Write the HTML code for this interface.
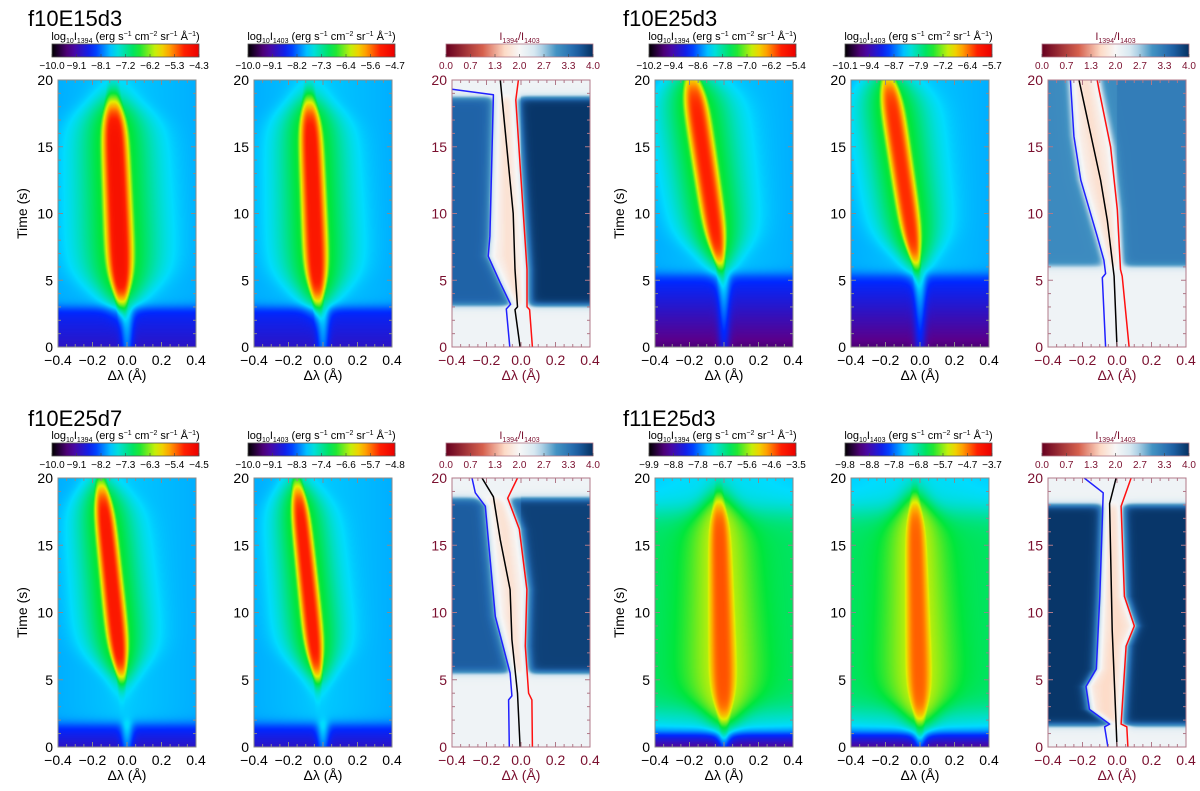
<!DOCTYPE html>
<html><head><meta charset="utf-8"><style>
body{margin:0;background:#fff;width:1200px;height:791px;overflow:hidden;position:relative;font-family:"Liberation Sans",sans-serif}
canvas{position:absolute}
#figsvg{position:absolute;left:0;top:0}
.gt{position:absolute;font-size:22px;color:#000;line-height:1}
</style></head><body>
<div class="gt" style="left:28px;top:8px">f10E15d3</div>
<div class="gt" style="left:623px;top:8px">f10E25d3</div>
<div class="gt" style="left:28px;top:408px">f10E25d7</div>
<div class="gt" style="left:623px;top:408px">f11E25d3</div>
<svg id="figsvg" width="1200" height="791"></svg>
<script>
// ---- data ----
var rowTops=[80,478], rowBots=[347,747], cbTops=[44,443];
var colLefts=[58,254,452,655,851,1048];
var xTicks=[-0.4,-0.2,0.0,0.2,0.4];
var yTicks=[0,5,10,15,20];
var cbLabels=[
 ["-10.0","-9.1","-8.1","-7.2","-6.2","-5.3","-4.3"],
 ["-10.0","-9.1","-8.2","-7.3","-6.4","-5.6","-4.7"],
 ["0.0","0.7","1.3","2.0","2.7","3.3","4.0"],
 ["-10.2","-9.4","-8.6","-7.8","-7.0","-6.2","-5.4"],
 ["-10.1","-9.4","-8.7","-7.9","-7.2","-6.4","-5.7"],
 ["0.0","0.7","1.3","2.0","2.7","3.3","4.0"],
 ["-10.0","-9.1","-8.2","-7.3","-6.3","-5.4","-4.5"],
 ["-10.0","-9.1","-8.3","-7.4","-6.6","-5.7","-4.8"],
 ["0.0","0.7","1.3","2.0","2.7","3.3","4.0"],
 ["-9.9","-8.8","-7.8","-6.7","-5.6","-4.6","-3.5"],
 ["-9.8","-8.8","-7.8","-6.8","-5.7","-4.7","-3.7"],
 ["0.0","0.7","1.3","2.0","2.7","3.3","4.0"]];
var intTb=[3,3,5.5,5.5,1.8,1.8,1.2,1.2];
var intLo0=[0.2,0.2,0.1,0.1,0.2,0.2,0.14,0.14];
var intLo1=[0.28,0.28,0.3,0.3,0.3,0.3,0.3,0.3];
var intHi=[0.405,0.405,0.405,0.405,0.405,0.405,0.43,0.43];
var intHump=[0,0,0,0,0,0,0.14,0.14];
var intT0=[3.2,3.2,6,6,5,5,1.8,1.8];
var intT1=[18.6,18.6,20.5,20.5,19.7,19.7,18.6,18.6];
var intCB=[-0.03,-0.03,-0.02,-0.02,-0.03,-0.03,0.0,0.0];
var intCT=[-0.08,-0.08,-0.19,-0.19,-0.15,-0.15,-0.03,-0.03];
var intWB=[0.1,0.09,0.08,0.075,0.08,0.075,0.1,0.095];
var intWT=[0.09,0.08,0.09,0.085,0.07,0.065,0.07,0.065];
var intPk=[0.94,0.92,0.9,0.89,0.92,0.91,0.86,0.85];
var intHalo=[0.63,0.63,0.63,0.63,0.63,0.63,0.71,0.71];
var ratTb=[3.1,6,5.5,1.6], ratTop=[18.7,21,18.5,18];
var ratWingL=[3.55,3.1,3.6,3.95], ratWingR=[3.95,3.25,3.85,3.95], ratCore=[1.85,1.8,1.85,1.7];
var blueT=[[0,2.85,3.2,4.8,6.8,8.3,18.9,19.3],[0,5.2,5.5,6.5,8.3,12.5,15.8,20],[0,3.5,3.8,5.5,9.7,17.9,18.9,20],[0,1.5,1.7,2.8,4.5,5.8,11.2,18.9,20]];
var blueX=[[-0.065,-0.085,-0.06,-0.12,-0.19,-0.18,-0.16,-0.4],[-0.066,-0.085,-0.066,-0.076,-0.115,-0.21,-0.25,-0.27],[-0.068,-0.072,-0.053,-0.063,-0.149,-0.207,-0.265,-0.284],[-0.053,-0.072,-0.043,-0.16,-0.18,-0.12,-0.1,-0.08,-0.19]];
var blackT=[[0,2.8,3,5.8,10,20],[0,5.3,9.5,12.5,20],[0,4,8,11.7,15.4,18.6,20],[0,1.7,8.7,18.1,20]];
var blackX=[[-0.005,-0.035,-0.02,-0.035,-0.045,-0.12],[0,-0.017,-0.056,-0.095,-0.22],[-0.005,-0.02,-0.053,-0.063,-0.12,-0.16,-0.226],[0,-0.005,-0.028,-0.043,-0.005]];
var redT=[[0,2.8,3,5.8,18.5,20],[0,5.3,5.8,10.3,15,19.3,20],[0,3.5,4,7.5,11.7,16.2,18.5,20],[0,1.5,1.7,7.5,9,11.2,17.9,20]];
var redX=[[0.066,0.05,0.035,0.035,-0.03,-0.015],[0.07,0.03,0.02,0.002,-0.037,-0.105,-0.115],[0.066,0.063,0.044,0.025,0.034,-0.01,-0.077,-0.02],[0.063,0.057,0.024,0.053,0.1,0.043,0.024,0.082]];

(function(){
var PW=138;
function xScale(L,x){return L+(x+0.4)/0.8*PW;}
function yScale(r,t){return rowBots[r]-t/20*(rowBots[r]-rowTops[r]);}
function sigm(z){return 1/(1+Math.exp(-z));}
function interpLine(ts,xs,t){if(t<=ts[0])return xs[0];for(var i=1;i<ts.length;i++){if(t<=ts[i]){var f=(t-ts[i-1])/(ts[i]-ts[i-1]);return xs[i-1]+f*(xs[i]-xs[i-1]);}}return xs[xs.length-1];}
var rainbow=[[0,0,0,0],[0.12,90,0,140],[0.28,0,40,255],[0.42,0,220,255],[0.58,0,230,60],[0.72,230,240,0],[0.8,255,160,0],[0.9,255,30,0],[1,235,0,0]];
var rdbu=[[0,103,0,31],[0.25,214,96,77],[0.4,253,219,199],[0.5,247,247,247],[0.62,209,229,240],[0.75,67,147,195],[0.88,33,102,172],[1,5,48,97]];
function colorMap(st,v){v=Math.max(0,Math.min(1,v));for(var i=1;i<st.length;i++){if(v<=st[i][0]){var a=st[i-1],b=st[i],f=(v-a[0])/(b[0]-a[0]);return[a[1]+f*(b[1]-a[1]),a[2]+f*(b[2]-a[2]),a[3]+f*(b[3]-a[3])];}}var l=st[st.length-1];return[l[1],l[2],l[3]];}
function intensity(k,x,t){
 var tb=intTb[k];
 var low=intLo0[k]+(intLo1[k]-intLo0[k])*Math.min(1,t/tb)+0.14*Math.exp(-(x/0.035)*(x/0.035));
 var hi=intHi[k]-0.02*Math.abs(x)/0.4+intHump[k]*sigm((t-2.5)/0.6)*sigm((17.5-t)/0.6);
 var bg=low+(hi-low)*sigm((t-tb)/0.2);
 var t0=intT0[k],t1=intT1[k];var fr=Math.max(0,Math.min(1,(t-t0)/(t1-t0)));
 var cx=intCB[k]+(intCT[k]-intCB[k])*fr, w=intWB[k]+(intWT[k]-intWB[k])*fr;
 w*=(0.25+0.75*sigm((t-t0-1.2)/0.9))*(0.4+0.6*sigm((t1-t-0.8)/0.8));
 var d=Math.abs(x-cx)/w;
 var S=sigm((t-t0)/0.5)*sigm((t1-t)/0.6);
 var g=Math.exp(-Math.pow(d,3));
 var v=bg+(intPk[k]-bg)*g*S;
 var h=bg+(intHalo[k]-bg)*Math.exp(-(d/2.3)*(d/2.3))*S;
 return Math.max(v,h);
}
function ratio(j,x,t){
 var bx=interpLine(blueT[j],blueX[j],t), rx=interpLine(redT[j],redX[j],t);
 var f=sigm((x-bx)/0.015)*sigm((rx+0.01-x)/0.015);
 var wing=(x<0)?ratWingL[j]:ratWingR[j];
 var pink=sigm((x-(bx+rx)/2+0.02)/0.01)*sigm(((bx+rx)/2+0.03-x)/0.01);
 var core=ratCore[j]*(1-0.5*pink)+2.2*0.5*pink-0.35*pink;
 var r=wing*(1-f)+core*f;
 var on=sigm((t-ratTb[j])/0.15)*sigm((ratTop[j]-t)/0.15);
 return 2.1+(r-2.1)*on;
}
var SVGNS="http://www.w3.org/2000/svg";
var svgRoot=document.getElementById('figsvg');
function mk(tag,attrs,parent){var e=document.createElementNS(SVGNS,tag);for(var k in attrs)e.setAttribute(k,attrs[k]);(parent||svgRoot).appendChild(e);return e;}
function addSpan(txt,s,size,dy){var sp=mk('tspan',{},txt);if(size)sp.setAttribute('font-size',size);if(dy)sp.setAttribute('dy',dy);sp.textContent=s;}

for(var r=0;r<2;r++)for(var c=0;c<6;c++){
 var L=colLefts[c], isR=(c%3==2), T=rowTops[r], B=rowBots[r], H=B-T;
 var pi=r*6+c;
 var g=mk('g',{});
 
 
 var k=r*4+(c<3?c:c-1), j=r*2+(c<3?0:1);
 try{
  var cv=document.createElement('canvas');cv.width=PW;cv.height=H;cv.style.left=L+'px';cv.style.top=T+'px';
  
  
  document.body.insertBefore(cv,svgRoot);
  var ctx=cv.getContext('2d'),im=ctx.createImageData(PW,H);
  for(var py=0;py<H;py++){var t=(H-py-0.5)/H*20;for(var px=0;px<PW;px++){var x=(px+0.5)/PW*0.8-0.4;
   var col=isR?colorMap(rdbu,ratio(j,x,t)/4):colorMap(rainbow,intensity(k,x,t));
   var o=(py*PW+px)*4;im.data[o]=col[0];im.data[o+1]=col[1];im.data[o+2]=col[2];im.data[o+3]=255;}}
  ctx.putImageData(im,0,0);
 }catch(e){}
 var axc=isR?'#b07888':'#8a8a8a', lc=isR?'#7a0f2e':'#000';
 if(isR){
  var sets=[[blueT,blueX,'#2020ff','blue-line'],[blackT,blackX,'#000','black-line'],[redT,redX,'#ff1010','red-line']];
  for(var n=0;n<3;n++){
   var ts=sets[n][0][j], xs=sets[n][1][j], pts=[];
   for(var i=0;i<ts.length;i++)pts.push(xScale(L,xs[i]).toFixed(1)+','+yScale(r,ts[i]).toFixed(1));
   var pl=mk('polyline',{points:pts.join(' '),fill:'none',stroke:sets[n][2],'stroke-width':1.5,'stroke-linejoin':'round'},g);
   
   
  }
 }
 mk('rect',{x:L,y:T,width:PW,height:H,fill:'none',stroke:axc,'stroke-width':1},g);
 for(var m=0;m<=16;m++){var xx=L+m/16*PW,len=(m%4==0)?5:3;
  mk('line',{x1:xx,y1:B,x2:xx,y2:B-len,stroke:axc},g);mk('line',{x1:xx,y1:T,x2:xx,y2:T+len,stroke:axc},g);}
 for(var m2=0;m2<=20;m2++){var yy=yScale(r,m2),len2=(m2%5==0)?5:3;
  mk('line',{x1:L,y1:yy,x2:L+len2,y2:yy,stroke:axc},g);mk('line',{x1:L+PW,y1:yy,x2:L+PW-len2,y2:yy,stroke:axc},g);}
 xTicks.forEach(function(v){var tx=mk('text',{x:xScale(L,v),y:B+18,'font-size':14,'text-anchor':'middle',fill:lc},g);tx.textContent=(v<0?'\u2212':'')+Math.abs(v).toFixed(1);
  });
 yTicks.forEach(function(v){var tx=mk('text',{x:L-5,y:yScale(r,v)+5,'font-size':14,'text-anchor':'end',fill:lc},g);tx.textContent=String(v);
  });
 var xt=mk('text',{x:L+PW/2,y:B+33,'font-size':14,'text-anchor':'middle',fill:lc},g);xt.textContent='\u0394\u03bb (\u00c5)';
 
 if(c%3==0){var yt=mk('text',{x:0,y:0,'font-size':14,'text-anchor':'middle',transform:'translate('+(L-31)+','+((T+B)/2)+') rotate(-90)',fill:'#000'},g);yt.textContent='Time (s)';
  }
 var cbL=L-6,cbW=PW+9,cbT=cbTops[r],cbH=13;
 var gid='grad'+pi;var gr=mk('linearGradient',{id:gid,x1:0,x2:1,y1:0,y2:0},g);
 for(var s=0;s<=20;s++){var cc=colorMap(isR?rdbu:rainbow,s/20);mk('stop',{offset:s/20,'stop-color':'rgb('+Math.round(cc[0])+','+Math.round(cc[1])+','+Math.round(cc[2])+')'},gr);}
 var cb=mk('rect',{x:cbL,y:cbT,width:cbW,height:cbH,fill:'url(#'+gid+')',stroke:isR?'#b07888':'#555','stroke-width':0.8},g);
 
 cbLabels[pi].forEach(function(s,i){var x=cbL+i/6*cbW;
  mk('line',{x1:x,y1:cbT+cbH,x2:x,y2:cbT+cbH-3,stroke:'#444','stroke-width':0.6},g);
  var tx=mk('text',{x:x,y:cbT+cbH+12,'font-size':10,'text-anchor':'middle',fill:isR?'#7a0f2e':'#000'},g);tx.textContent=s.replace('-','\u2212');
  });
 var ct=mk('text',{x:cbL+cbW/2,y:cbT-4,'font-size':11,'text-anchor':'middle',fill:isR?'#7a0f2e':'#000'},g);
 
 var lineId=(c%3==1)?'1403':'1394';
 if(isR){addSpan(ct,'I');addSpan(ct,'1394',7,3);addSpan(ct,'/I',null,-3);addSpan(ct,'1403',7,3);}
 else{addSpan(ct,'log');addSpan(ct,'10',7,3);addSpan(ct,'I',null,-3);addSpan(ct,lineId,7,3);addSpan(ct,' (erg s',null,-3);
  addSpan(ct,'\u22121',7,-4);addSpan(ct,' cm',null,4);addSpan(ct,'\u22122',7,-4);addSpan(ct,' sr',null,4);addSpan(ct,'\u22121',7,-4);
  addSpan(ct,' \u00c5',null,4);addSpan(ct,'\u22121',7,-4);addSpan(ct,')',null,4);}
}
})();
</script>
</body></html>
